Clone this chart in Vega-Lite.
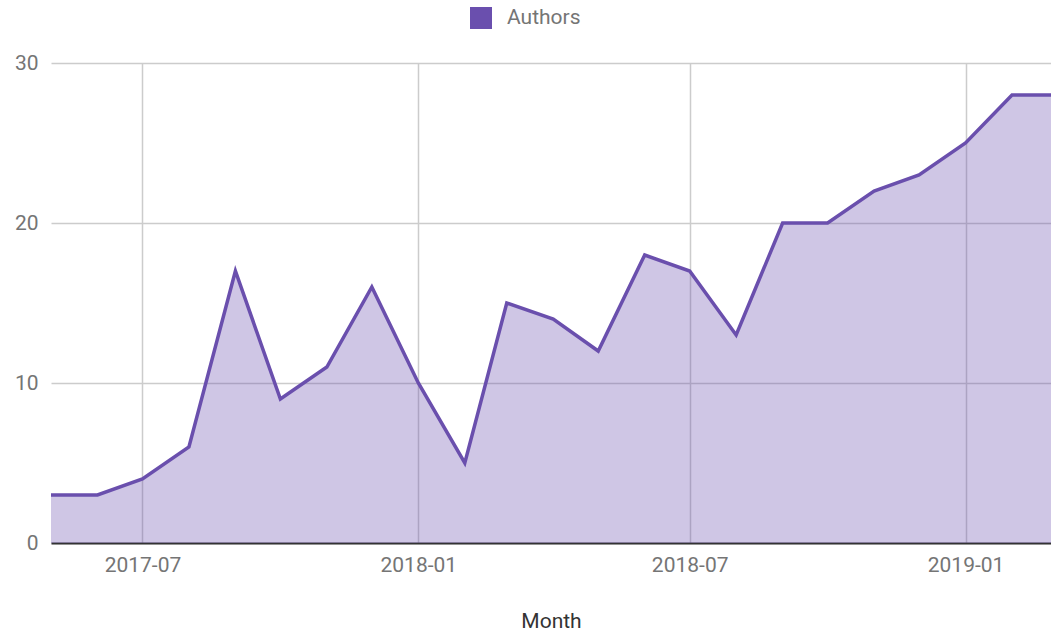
{
  "$schema": "https://vega.github.io/schema/vega-lite/v6.json",
  "width": 1000,
  "height": 480,
  "autosize": "none",
  "padding": {"left": 51, "top": 63, "right": 0, "bottom": 90},
  "background": "white",
  "config": {
    "font": "Roboto",
    "view": {"stroke": null},
    "axis": {"labelFont": "Roboto", "titleFont": "Roboto", "labelColor": "#757575", "labelFontSize": 21, "gridColor": "#cccccc", "gridWidth": 1.5, "ticks": false, "titleFontWeight": "normal", "titleFontSize": 21, "titleColor": "#333333"},
    "legend": {"labelFont": "Roboto", "labelFontSize": 21, "labelColor": "#757575", "labelOffset": 15, "symbolType": "square", "symbolSize": 484, "symbolOpacity": 1, "symbolStrokeWidth": 0, "padding": 0}
  },
  "data": {"values": [
    {"month": "2017-05-01", "authors": 3},
    {"month": "2017-06-01", "authors": 3},
    {"month": "2017-07-01", "authors": 4},
    {"month": "2017-08-01", "authors": 6},
    {"month": "2017-09-01", "authors": 17},
    {"month": "2017-10-01", "authors": 9},
    {"month": "2017-11-01", "authors": 11},
    {"month": "2017-12-01", "authors": 16},
    {"month": "2018-01-01", "authors": 10},
    {"month": "2018-02-01", "authors": 5},
    {"month": "2018-03-01", "authors": 15},
    {"month": "2018-04-01", "authors": 14},
    {"month": "2018-05-01", "authors": 12},
    {"month": "2018-06-01", "authors": 18},
    {"month": "2018-07-01", "authors": 17},
    {"month": "2018-08-01", "authors": 13},
    {"month": "2018-09-01", "authors": 20},
    {"month": "2018-10-01", "authors": 20},
    {"month": "2018-11-01", "authors": 22},
    {"month": "2018-12-01", "authors": 23},
    {"month": "2019-01-01", "authors": 25},
    {"month": "2019-02-01", "authors": 28},
    {"month": "2019-03-01", "authors": 28}
  ]},
  "encoding": {
    "x": {
      "field": "month", "type": "temporal", "title": "Month",
      "scale": {"type": "utc", "domain": [{"year": 2017, "month": 5, "date": 1, "utc": true}, {"year": 2019, "month": 2, "date": 27, "utc": true}]},
      "axis": {"format": "%Y-%m", "values": [{"year": 2017, "month": 7, "date": 1, "utc": true}, {"year": 2018, "month": 1, "date": 1, "utc": true}, {"year": 2018, "month": 7, "date": 1, "utc": true}, {"year": 2019, "month": 1, "date": 1, "utc": true}], "labelPadding": 11, "titlePadding": 35, "domainColor": "#333333", "domainWidth": 2, "grid": true, "labelFlush": false}
    },
    "y": {
      "field": "authors", "type": "quantitative", "title": null,
      "scale": {"domain": [0, 30], "nice": false},
      "axis": {"values": [0, 10, 20, 30], "domain": false, "labelPadding": 13, "grid": true}
    }
  },
  "layer": [
    {
      "mark": {"type": "area", "clip": true, "fillOpacity": 0.32},
      "encoding": {"color": {"datum": "Authors", "scale": {"range": ["#6a4fae"]}, "legend": {"title": null, "orient": "none", "legendX": 419, "legendY": -56, "symbolCornerRadius": 2}}}
    },
    {
      "mark": {"type": "line", "clip": true, "strokeWidth": 3.5, "color": "#6a4fad"},
      "encoding": {}
    }
  ]
}
